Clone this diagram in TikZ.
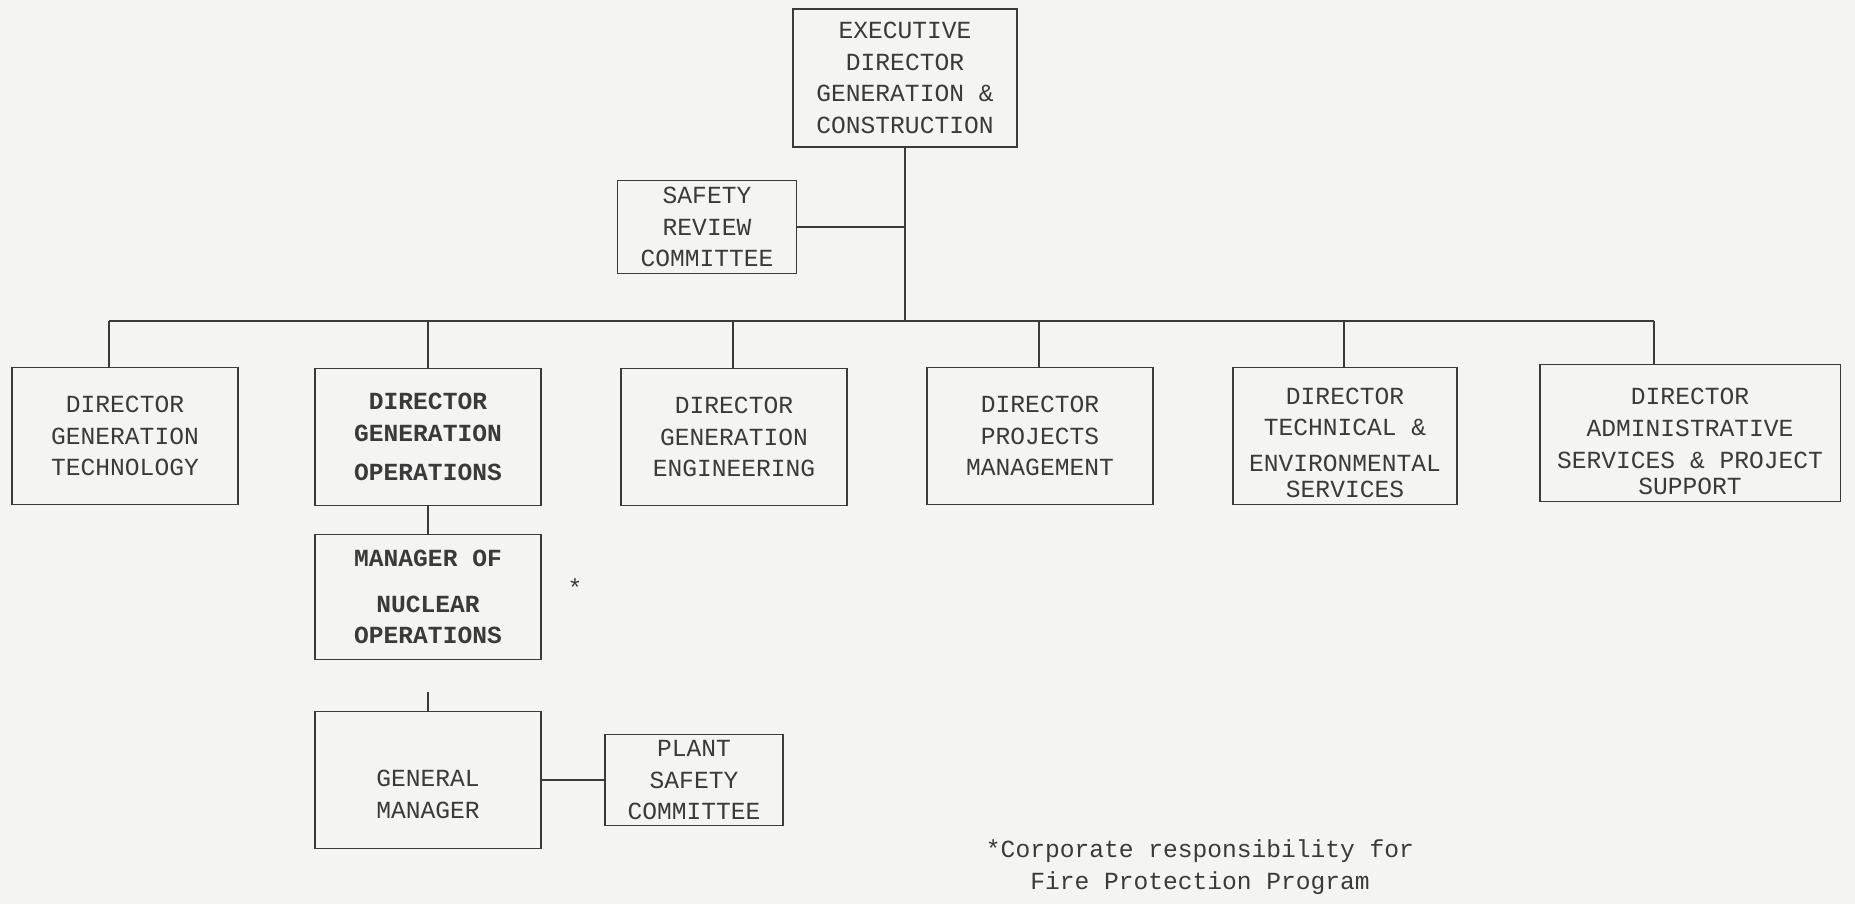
\documentclass[tikz,border=0pt]{standalone}
\usepackage{fontspec}
\setmonofont{Liberation Mono}
\definecolor{ink}{HTML}{3A3A3A}
\definecolor{paper}{HTML}{F4F4F2}
\begin{document}
\begin{tikzpicture}[x=0.02cm,y=-0.02cm,line width=1.1pt,draw=ink,
  every node/.style={font=\ttfamily\fontsize{14}{18}\selectfont,text=ink,align=center,inner sep=0pt},
  box/.style={draw=ink,line width=1.1pt,minimum width=4.52cm,minimum height=2.74cm}]
\fill[paper] (0,0) rectangle (1855,904);
\node[box,minimum width=4.48cm,minimum height=2.76cm] (exec) at (905,78) {EXECUTIVE\\DIRECTOR\\GENERATION \&\\CONSTRUCTION};
\node[box,minimum width=3.58cm,minimum height=1.86cm] (review) at (707,227) {SAFETY\\REVIEW\\COMMITTEE};
\node[box] (tech) at (125,436) {DIRECTOR\\GENERATION\\TECHNOLOGY};
\node[box,font=\ttfamily\bfseries\fontsize{14}{18}\selectfont] (ops) at (428,437) {DIRECTOR\\GENERATION\\[4pt]OPERATIONS};
\node[box] (eng) at (734,437) {DIRECTOR\\GENERATION\\ENGINEERING};
\node[box] (proj) at (1040,436) {DIRECTOR\\PROJECTS\\MANAGEMENT};
\node[box,minimum width=4.48cm] (env) at (1345,436) {\rule{0pt}{17pt}DIRECTOR\\TECHNICAL \&\\[2pt]ENVIRONMENTAL\\[-3pt]SERVICES};
\node[box,minimum width=6.02cm] (adm) at (1690,433) {\rule{0pt}{19pt}DIRECTOR\\ADMINISTRATIVE\\SERVICES \& PROJECT\\[-3pt]SUPPORT};
\node[box,minimum height=2.5cm,font=\ttfamily\bfseries\fontsize{14}{18}\selectfont] (nuc) at (428,597) {MANAGER OF\\[8pt]NUCLEAR\\OPERATIONS};
\node[box] (gm) at (428,780) {\rule{0pt}{26pt}GENERAL\\MANAGER};
\node[box,minimum width=3.56cm,minimum height=1.82cm] (psc) at (694,780) {PLANT\\SAFETY\\COMMITTEE};
\node (star) at (575,588) {*};
\node (note) at (1200,867) {*Corporate responsibility for\\Fire Protection Program};
\coordinate (busL) at (109,321);
\coordinate (busR) at (1654,321);
\coordinate (stub) at (428,692);
\draw (exec.south) -- (exec.south |- busL);
\draw (review.east) -- (review.east -| exec.south);
\draw (busL) -- (busR);
\foreach \b/\x in {tech/109,ops/428,eng/733,proj/1039,env/1344,adm/1654}{
  \coordinate (x\b) at (\x,321);
  \draw (x\b) -- (x\b |- \b.north);
}
\draw (ops.south) -- (nuc.north);
\draw (stub) -- (gm.north);
\draw (gm.east) -- (psc.west);
\end{tikzpicture}
\end{document}
